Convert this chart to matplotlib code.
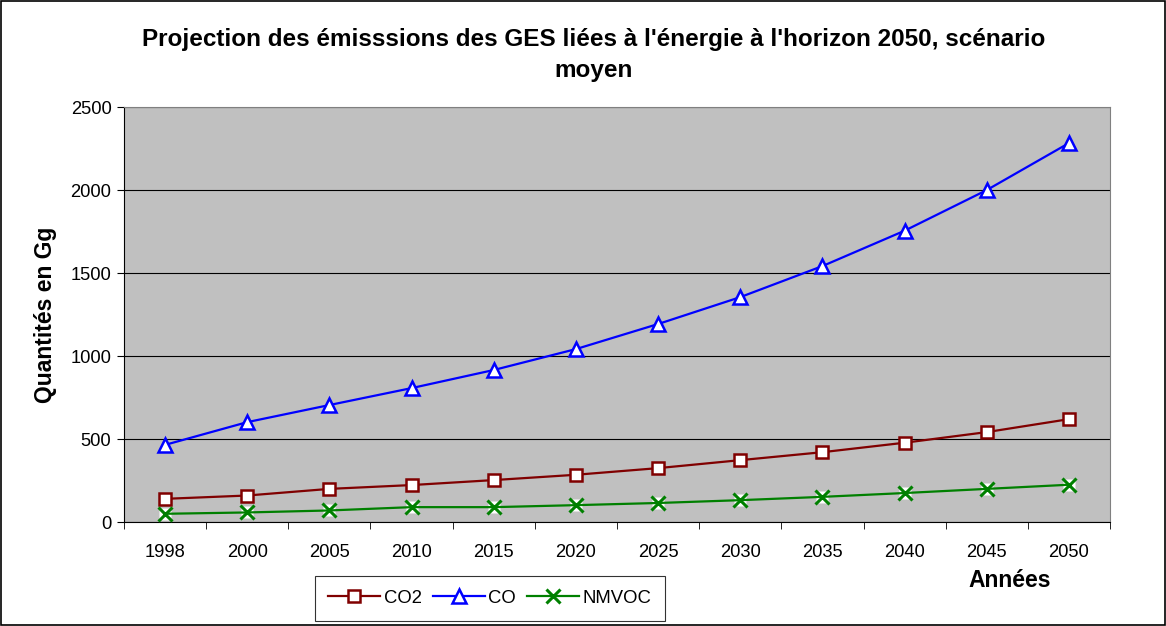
# Projection des émissions des GES liées à l'énergie, scénario moyen
import matplotlib.pyplot as plt
import numpy as np

plt.rcParams['font.family'] = ['Liberation Sans', 'DejaVu Sans']

annees = ['1998', '2000', '2005', '2010', '2015', '2020',
          '2025', '2030', '2035', '2040', '2045', '2050']
co2 = [140, 160, 200, 223, 253, 285, 325, 373, 421, 478, 542, 620]
co = [465, 602, 705, 807, 916, 1042, 1193, 1355, 1542, 1755, 2000, 2283]
nmvoc = [50, 58, 70, 90, 90, 102, 115, 132, 152, 175, 200, 225]

x = np.arange(len(annees))

fig = plt.figure(figsize=(11.66, 6.26), dpi=100)
ax = fig.add_axes([0.1063, 0.166, 0.8457, 0.663])
ax.set_facecolor('#C0C0C0')

ax.plot(x, co2, color='#800000', lw=1.6, marker='s', ms=9,
        mfc='white', mec='#800000', mew=1.8, label='CO2', zorder=3)
ax.plot(x, co, color='#0000FF', lw=1.6, marker='^', ms=10,
        mfc='white', mec='#0000FF', mew=1.8, label='CO', zorder=3)
# fond blanc derrière les croix
ax.plot(x, nmvoc, ls='none', marker='s', ms=9, mfc='white', mec='none', zorder=3)
ax.plot(x, nmvoc, color='#008000', lw=1.6, marker='x', ms=10,
        mec='#008000', mew=2.2, label='NMVOC', zorder=4)

ax.set_xlim(-0.5, len(annees) - 0.5)
ax.set_ylim(0, 2500)
ax.set_yticks(np.arange(0, 2501, 500))
ax.yaxis.grid(True, color='black', lw=0.8)
ax.set_axisbelow(True)

ax.set_xticks(x)
ax.set_xticklabels(annees)
ax.set_xticks(np.arange(-0.5, len(annees)), minor=True)
ax.tick_params(axis='x', which='major', length=0, pad=16, labelsize=13.2)
ax.tick_params(axis='x', which='minor', length=5, direction='out')
ax.tick_params(axis='y', length=5, direction='out', labelsize=13.2, pad=4)

for s in ['top', 'right']:
    ax.spines[s].set_color('#808080')
for s in ['left', 'bottom']:
    ax.spines[s].set_color('black')

fig.text(0.0386, 0.497, 'Quantités en Gg', fontsize=16.5, fontweight='bold',
         rotation=90, ha='center', va='center')
fig.text(0.866, 0.072, 'Années', fontsize=16.5, fontweight='bold', ha='center', va='center')

fig.text(0.509, 0.912, "Projection des émisssions des GES liées à l'énergie à l'horizon 2050, scénario\nmoyen",
         fontsize=17.5, fontweight='bold', ha='center', va='center', linespacing=1.42)

leg = fig.legend(loc='center', bbox_to_anchor=(0.4202, 0.044), ncol=3,
                 fontsize=13.3, frameon=True, fancybox=False, handlelength=2.8,
                 columnspacing=0.6, handletextpad=0.2, borderpad=0.75)
leg.get_frame().set_edgecolor('black')
leg.get_frame().set_linewidth(0.8)

fig.patches.append(plt.Rectangle((0.001, 0.001), 0.998, 0.998, transform=fig.transFigure,
                                 fill=False, edgecolor='black', lw=1.2))

fig.savefig('out.png', dpi=100)
